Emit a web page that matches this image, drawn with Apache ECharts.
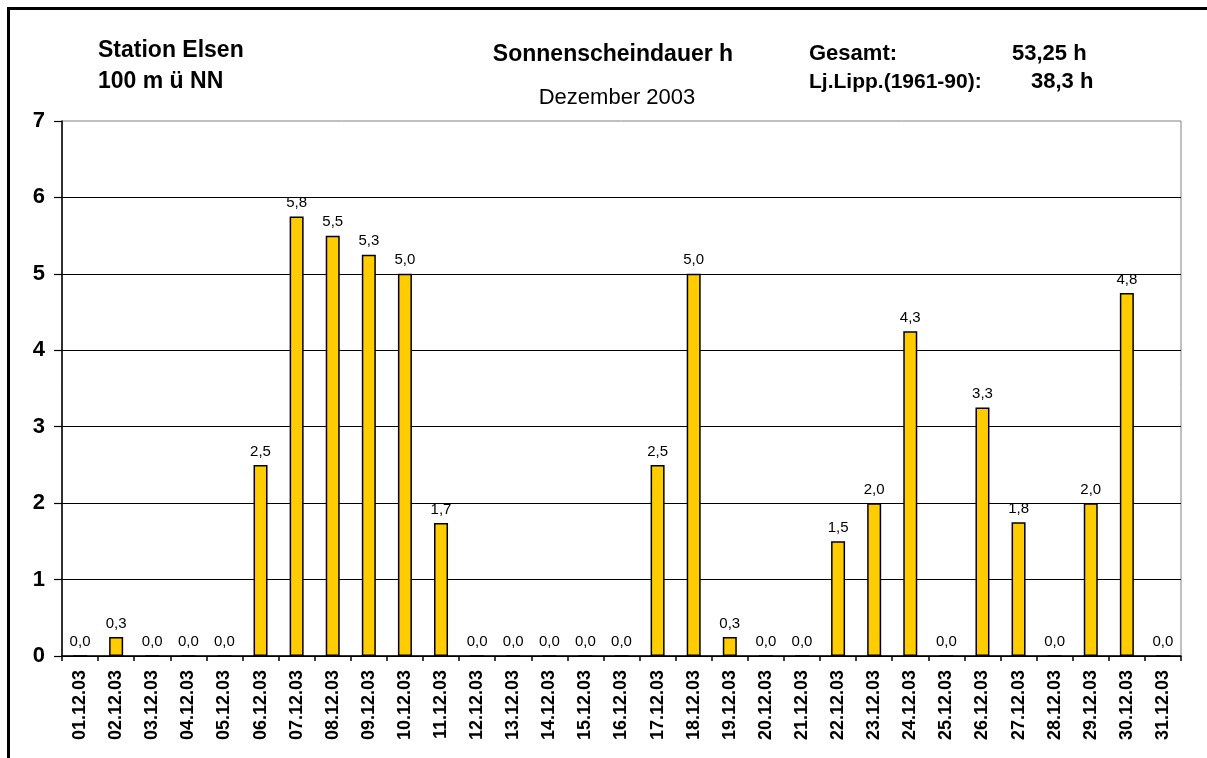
<!DOCTYPE html>
<html>
<head>
<meta charset="utf-8">
<title>Sonnenscheindauer Dezember 2003</title>
<script src="https://cdn.jsdelivr.net/npm/echarts@6/dist/echarts.min.js"></script>
<style>
  html, body { margin: 0; padding: 0; background: #fff; }
  #chart { width: 1207px; height: 758px; }
</style>
</head>
<body>
<div id="chart"></div>
<script>
// Tage im Dezember 2003
const days = [
  "01.12.03", "02.12.03", "03.12.03", "04.12.03", "05.12.03", "06.12.03",
  "07.12.03", "08.12.03", "09.12.03", "10.12.03", "11.12.03", "12.12.03",
  "13.12.03", "14.12.03", "15.12.03", "16.12.03", "17.12.03", "18.12.03",
  "19.12.03", "20.12.03", "21.12.03", "22.12.03", "23.12.03", "24.12.03",
  "25.12.03", "26.12.03", "27.12.03", "28.12.03", "29.12.03", "30.12.03",
  "31.12.03",
];

// Sonnenscheindauer in Stunden
const sunHours = [
  0, 0.25, 0, 0, 0, 2.5,
  5.75, 5.5, 5.25, 5.0, 1.74, 0,
  0, 0, 0, 0, 2.5, 5.0,
  0.25, 0, 0, 1.5, 2.0, 4.25,
  0, 3.25, 1.75, 0, 2.0, 4.75,
  0,
];

const yTicks = [0, 1, 2, 3, 4, 5, 6, 7];

const FONT = "'Liberation Sans', Arial, sans-serif";

const chart = echarts.init(document.getElementById("chart"));

const headerText = (x, y, text, opts = {}) => ({
  type: "text",
  x: x,
  y: y,
  style: {
    text: text,
    font: (opts.bold === false ? "" : "bold ") + (opts.size || 23) + "px " + FONT,
    fill: "#000",
    align: opts.align || "left",
    verticalAlign: "middle",
  },
});

const option = {
  backgroundColor: "#fff",
  animation: false,
  grid: {
    left: 62,
    right: 26,
    top: 121,
    bottom: 102,
    show: true,
    borderColor: "#808080",
    borderWidth: 1,
  },
  xAxis: {
    type: "category",
    data: days,
    boundaryGap: true,
    axisLine: { lineStyle: { color: "#000", width: 1.5 } },
    axisTick: { show: true, length: 5, lineStyle: { color: "#000", width: 1.5 } },
    axisLabel: {
      interval: 0,
      rotate: 90,
      margin: 14,
      color: "#000",
      fontFamily: FONT,
      fontWeight: "bold",
      fontSize: 18,
    },
  },
  yAxis: {
    type: "value",
    min: yTicks[0],
    max: yTicks[yTicks.length - 1],
    interval: 1,
    axisLine: { show: true, lineStyle: { color: "#000", width: 1.5 } },
    axisTick: { show: true, length: 8, lineStyle: { color: "#000", width: 1.2 } },
    axisLabel: {
      margin: 17,
      color: "#000",
      fontFamily: FONT,
      fontWeight: "bold",
      fontSize: 22,
    },
    splitLine: {
      show: true,
      showMaxLine: false,
      lineStyle: { color: "#000", width: 1.2 },
    },
  },
  series: [
    {
      name: "Sonnenscheindauer",
      type: "bar",
      data: sunHours,
      barWidth: 14,
      itemStyle: {
        color: "#FFCC00",
        borderColor: "#000",
        borderWidth: 1.5,
      },
      label: {
        show: true,
        position: "top",
        distance: 6,
        color: "#000",
        fontFamily: FONT,
        fontSize: 15,
        formatter: (p) => p.value.toFixed(1).replace(".", ","),
      },
    },
  ],
  graphic: [
    {
      type: "rect",
      silent: true,
      shape: { x: 8.5, y: 8.5, width: 1400, height: 1000 },
      style: { fill: "none", stroke: "#000", lineWidth: 3 },
    },
    headerText(98, 51, "Station Elsen"),
    headerText(98, 82, "100 m ü NN"),
    headerText(613, 55, "Sonnenscheindauer h", { align: "center" }),
    headerText(617, 98, "Dezember 2003", { align: "center", bold: false, size: 22 }),
    headerText(809, 54, "Gesamt:", { size: 22 }),
    headerText(1012, 54, "53,25 h", { size: 22 }),
    headerText(809, 82, "Lj.Lipp.(1961-90):", { size: 21 }),
    headerText(1031, 82, "38,3 h", { size: 22 }),
  ],
};

chart.setOption(option);
</script>
</body>
</html>
